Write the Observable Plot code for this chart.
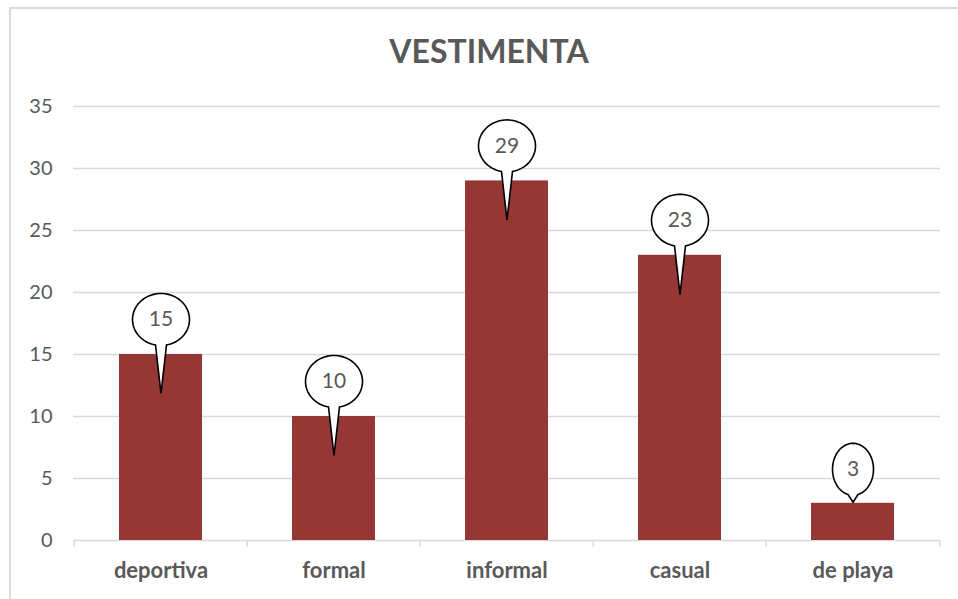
<!DOCTYPE html>
<html>
<head>
<meta charset="utf-8">
<script src="https://cdn.jsdelivr.net/npm/d3@7"></script>
<script src="https://cdn.jsdelivr.net/npm/@observablehq/plot@0.6"></script>
<style>
  html, body { margin: 0; padding: 0; background: #fff; }
  #wrap { position: relative; width: 958px; height: 599px; overflow: hidden; background: #fff; }
  #frame { position: absolute; left: 9px; top: 7px; width: 1100px; height: 1100px; border: 2px solid #d9d9d9; box-sizing: border-box; }
  #title { position: absolute; left: 0; width: 978px; top: 35px; text-align: center; font-family: Lato, sans-serif; font-weight: 700; font-size: 32px; line-height: 32px; color: #595959; }
  #chart { position: absolute; left: 0; top: 0; }
  #chart svg { background: transparent !important; }
  g[aria-label^="x-axis"] text { font-weight: 700; font-size: 22px; }
</style>
</head>
<body>
<div id="wrap">
  <div id="frame"></div>
  <div id="title">VESTIMENTA</div>
  <div id="chart"></div>
</div>
<script>
const categories = ["deportiva", "formal", "informal", "casual", "de playa"];
const values = [15, 10, 29, 23, 3];
const yTicks = [0, 5, 10, 15, 20, 25, 30, 35];

const data = categories.map((c, i) => ({cat: c, value: values[i]}));

const W = 958, H = 599, ML = 73, MR = 18, MT = 106, MB = 59;
const step = (W - ML - MR) / categories.length;

function callout(rx, ry, tail, half) {
  return {
    draw(ctx) {
      const t0 = Math.acos(half / rx);
      const n = 80;
      ctx.moveTo(0, tail);
      ctx.lineTo(rx * Math.cos(t0), ry * Math.sin(t0));
      const tEnd = -Math.PI - t0;
      for (let k = 1; k <= n; k++) {
        const t = t0 + (tEnd - t0) * k / n;
        ctx.lineTo(rx * Math.cos(t), ry * Math.sin(t));
      }
      ctx.closePath();
    }
  };
}

const bigBubble = callout(28.5, 26, 74, 5.5);
const smallBubble = callout(20.5, 26, 33, 5);

const chart = Plot.plot({
  width: W,
  height: H,
  marginLeft: ML,
  marginRight: MR,
  marginTop: MT,
  marginBottom: MB,
  style: {fontFamily: "Lato, sans-serif", fontSize: "20px", color: "#595959", background: "transparent"},
  x: {domain: categories, padding: 0, label: null, tickSize: 0, tickPadding: 22},
  y: {domain: [0, 35], ticks: yTicks, label: null, tickSize: 0, tickPadding: 21},
  marks: [
    Plot.ruleY(yTicks, {stroke: "#d9d9d9", strokeWidth: 1.3}),
    Plot.ruleX(categories, {x: d => d, y1: 0, y2: -0.55, dx: -step / 2, stroke: "#d9d9d9", strokeWidth: 1.5}),
    Plot.ruleX(categories.slice(-1), {x: d => d, y1: 0, y2: -0.55, dx: step / 2, stroke: "#d9d9d9", strokeWidth: 1.5}),
    Plot.barY(data, {x: "cat", y: "value", fill: "#953735", insetLeft: 45, insetRight: 45}),
    Plot.dot(data.filter(d => d.value >= 5), {x: "cat", y: "value", dy: -35, symbol: bigBubble, r: 10, fill: "white", stroke: "black", strokeWidth: 1.6}),
    Plot.dot(data.filter(d => d.value < 5), {x: "cat", y: "value", dy: -34, symbol: smallBubble, r: 10, fill: "white", stroke: "black", strokeWidth: 1.6}),
    Plot.text(data.filter(d => d.value >= 5), {x: "cat", y: "value", dy: -35, text: d => String(d.value), fill: "#595959", fontSize: 21}),
    Plot.text(data.filter(d => d.value < 5), {x: "cat", y: "value", dy: -34, text: d => String(d.value), fill: "#595959", fontSize: 21})
  ]
});
document.getElementById("chart").appendChild(chart);
</script>
</body>
</html>
